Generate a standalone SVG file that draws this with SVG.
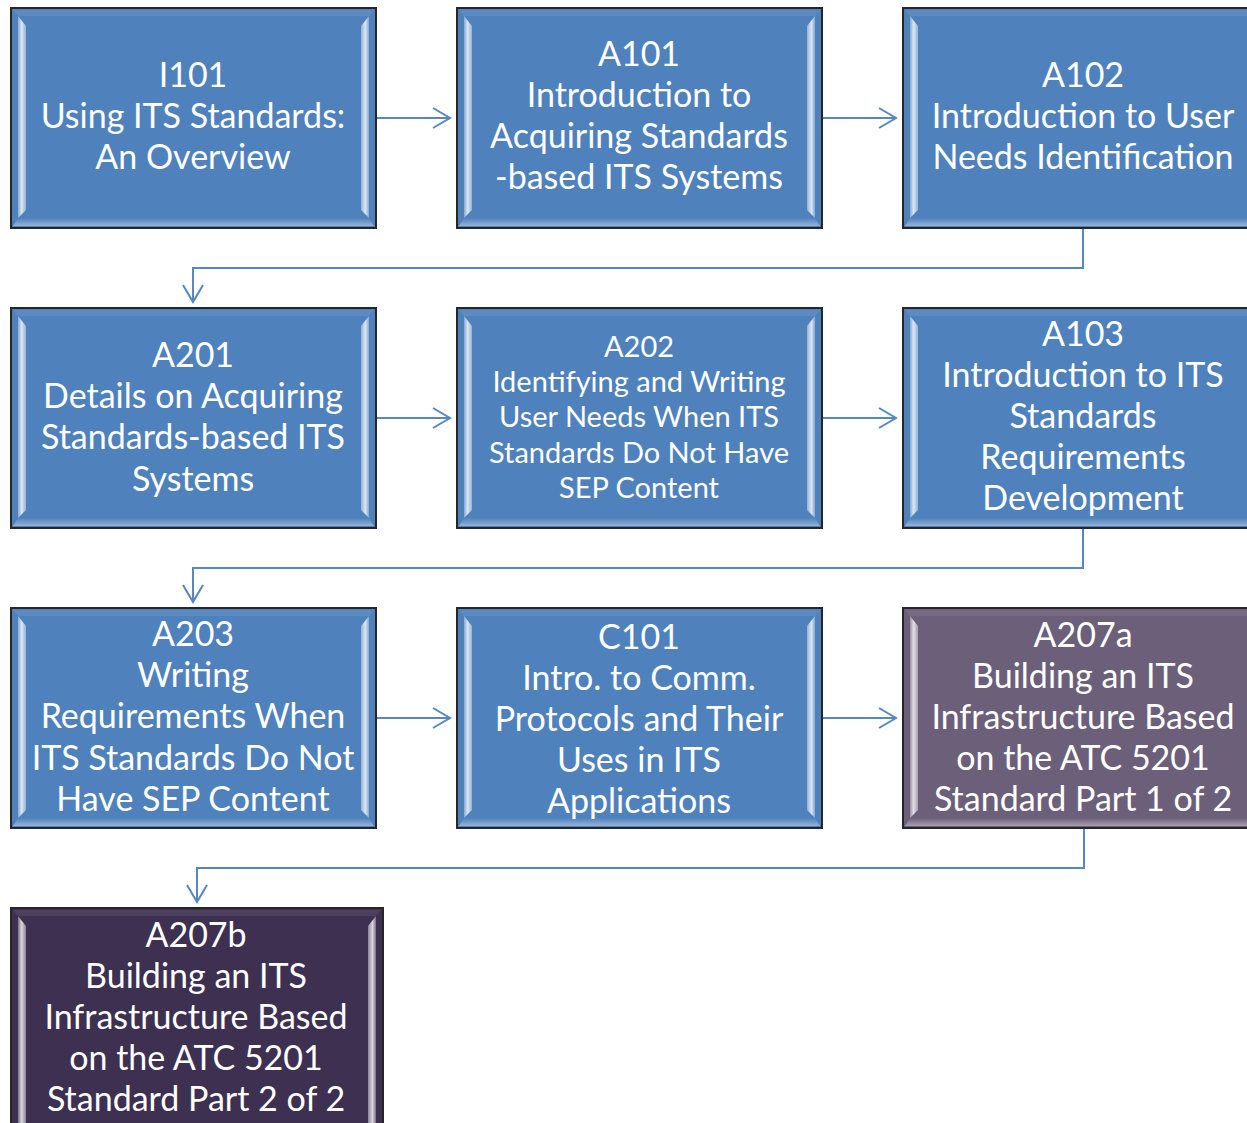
<svg xmlns="http://www.w3.org/2000/svg" xmlns:xlink="http://www.w3.org/1999/xlink" width="1247" height="1123" viewBox="0 0 1247 1123">
  <style>
    .box { stroke: #262626; stroke-width: 2; }
    .blue { fill: #4F81BD; }
    .mauve { fill: #6C5F7A; }
    .plum { fill: #3D3050; }
    .t { font-family: Lato, "Open Sans", "Liberation Sans", sans-serif; font-size: 34px; fill: #ffffff; text-anchor: middle; }
    .s { font-size: 29px; }
    .conn { fill: none; stroke: #5686C4; stroke-width: 2; }
  </style>
  <defs>
    <linearGradient id="bevL" x1="0" y1="0" x2="1" y2="0">
      <stop offset="0" stop-color="#fff" stop-opacity="0.30"/>
      <stop offset="0.45" stop-color="#fff" stop-opacity="0.80"/>
      <stop offset="1" stop-color="#fff" stop-opacity="0.40"/>
    </linearGradient>
    <linearGradient id="bevR" x1="1" y1="0" x2="0" y2="0">
      <stop offset="0" stop-color="#fff" stop-opacity="0.30"/>
      <stop offset="0.45" stop-color="#fff" stop-opacity="0.80"/>
      <stop offset="1" stop-color="#fff" stop-opacity="0.40"/>
    </linearGradient>
    <linearGradient id="bevB" x1="0" y1="0" x2="0" y2="1">
      <stop offset="0" stop-color="#fff" stop-opacity="0"/>
      <stop offset="1" stop-color="#fff" stop-opacity="0.40"/>
    </linearGradient>
    <!-- bevel highlights for a 365 x 220 box -->
    <g id="bevel">
      <polygon points="2,2 363,2 358,8 7,8" fill="#fff" fill-opacity="0.08"/>
      <polygon points="7,210 358,210 363,218 2,218" fill="url(#bevB)"/>
      <polygon points="7,8 15,18 15,202 7,210" fill="url(#bevL)"/>
      <polygon points="358,8 350,18 350,202 358,210" fill="url(#bevR)"/>
    </g>
    <marker id="arr" markerUnits="userSpaceOnUse" viewBox="-20 -12 22 24" refX="0" refY="0" markerWidth="22" markerHeight="24" orient="auto">
      <path d="M-17,-10 L0,0 L-17,10" fill="none" stroke="#5686C4" stroke-width="2"/>
    </marker>
  </defs>

  <rect width="1247" height="1123" fill="#ffffff"/>

  <!-- connectors -->
  <g id="connectors" class="conn" marker-end="url(#arr)">
    <path d="M376,118 H450"/>
    <path d="M822,118 H896"/>
    <path d="M1083,228 V268 H193 V302"/>
    <path d="M376,418 H450"/>
    <path d="M822,418 H896"/>
    <path d="M1083,528 V568 H193 V602"/>
    <path d="M376,718 H450"/>
    <path d="M822,718 H896"/>
    <path d="M1084,828 V868 H197 V902"/>
  </g>

  <g id="i101" transform="translate(11,8)">
    <rect class="box blue" width="365" height="220"/>
    <use xlink:href="#bevel"/>
    <text class="t" x="182" y="79">I101</text>
    <text class="t" x="182" y="120">Using ITS Standards:</text>
    <text class="t" x="182" y="161">An Overview</text>
  </g>

  <g id="a101" transform="translate(457,8)">
    <rect class="box blue" width="365" height="220"/>
    <use xlink:href="#bevel"/>
    <text class="t" x="182" y="58">A101</text>
    <text class="t" x="182" y="99">Introduction to</text>
    <text class="t" x="182" y="140">Acquiring Standards</text>
    <text class="t" x="182" y="181">-based ITS Systems</text>
  </g>

  <g id="a102" transform="translate(903,8)">
    <rect class="box blue" width="365" height="220"/>
    <use xlink:href="#bevel"/>
    <text class="t" x="180" y="79">A102</text>
    <text class="t" x="180" y="120">Introduction to User</text>
    <text class="t" x="180" y="161">Needs Identification</text>
  </g>

  <g id="a201" transform="translate(11,308)">
    <rect class="box blue" width="365" height="220"/>
    <use xlink:href="#bevel"/>
    <text class="t" x="182" y="59">A201</text>
    <text class="t" x="182" y="100">Details on Acquiring</text>
    <text class="t" x="182" y="141">Standards-based ITS</text>
    <text class="t" x="182" y="183">Systems</text>
  </g>

  <g id="a202" transform="translate(457,308)">
    <rect class="box blue" width="365" height="220"/>
    <use xlink:href="#bevel"/>
    <text class="t s" x="182" y="49">A202</text>
    <text class="t s" x="182" y="84">Identifying and Writing</text>
    <text class="t s" x="182" y="119">User Needs When ITS</text>
    <text class="t s" x="182" y="155">Standards Do Not Have</text>
    <text class="t s" x="182" y="190">SEP Content</text>
  </g>

  <g id="a103" transform="translate(903,308)">
    <rect class="box blue" width="365" height="220"/>
    <use xlink:href="#bevel"/>
    <text class="t" x="180" y="38">A103</text>
    <text class="t" x="180" y="79">Introduction to ITS</text>
    <text class="t" x="180" y="120">Standards</text>
    <text class="t" x="180" y="161">Requirements</text>
    <text class="t" x="180" y="202">Development</text>
  </g>

  <g id="a203" transform="translate(11,608)">
    <rect class="box blue" width="365" height="220"/>
    <use xlink:href="#bevel"/>
    <text class="t" x="182" y="38">A203</text>
    <text class="t" x="182" y="79">Writing</text>
    <text class="t" x="182" y="120">Requirements When</text>
    <text class="t" x="182" y="162">ITS Standards Do Not</text>
    <text class="t" x="182" y="203">Have SEP Content</text>
  </g>

  <g id="c101" transform="translate(457,608)">
    <rect class="box blue" width="365" height="220"/>
    <use xlink:href="#bevel"/>
    <text class="t" x="182" y="41">C101</text>
    <text class="t" x="182" y="82">Intro. to Comm.</text>
    <text class="t" x="182" y="123">Protocols and Their</text>
    <text class="t" x="182" y="164">Uses in ITS</text>
    <text class="t" x="182" y="205">Applications</text>
  </g>

  <g id="a207a" transform="translate(903,608)">
    <rect class="box mauve" width="365" height="220"/>
    <use xlink:href="#bevel"/>
    <text class="t" x="180" y="39">A207a</text>
    <text class="t" x="180" y="80">Building an ITS</text>
    <text class="t" x="180" y="121">Infrastructure Based</text>
    <text class="t" x="180" y="162">on the ATC 5201</text>
    <text class="t" x="180" y="203">Standard Part 1 of 2</text>
  </g>

  <g id="a207b" transform="translate(11,908)">
    <rect class="box plum" width="372" height="240"/>
    <polygon points="2,2 370,2 365,8 7,8" fill="#fff" fill-opacity="0.08"/>
    <polygon points="7,8 15,18 15,240 7,240" fill="url(#bevL)"/>
    <polygon points="365,8 357,18 357,240 365,240" fill="url(#bevR)"/>
    <text class="t" x="185" y="39">A207b</text>
    <text class="t" x="185" y="80">Building an ITS</text>
    <text class="t" x="185" y="121">Infrastructure Based</text>
    <text class="t" x="185" y="162">on the ATC 5201</text>
    <text class="t" x="185" y="203">Standard Part 2 of 2</text>
  </g>
</svg>
